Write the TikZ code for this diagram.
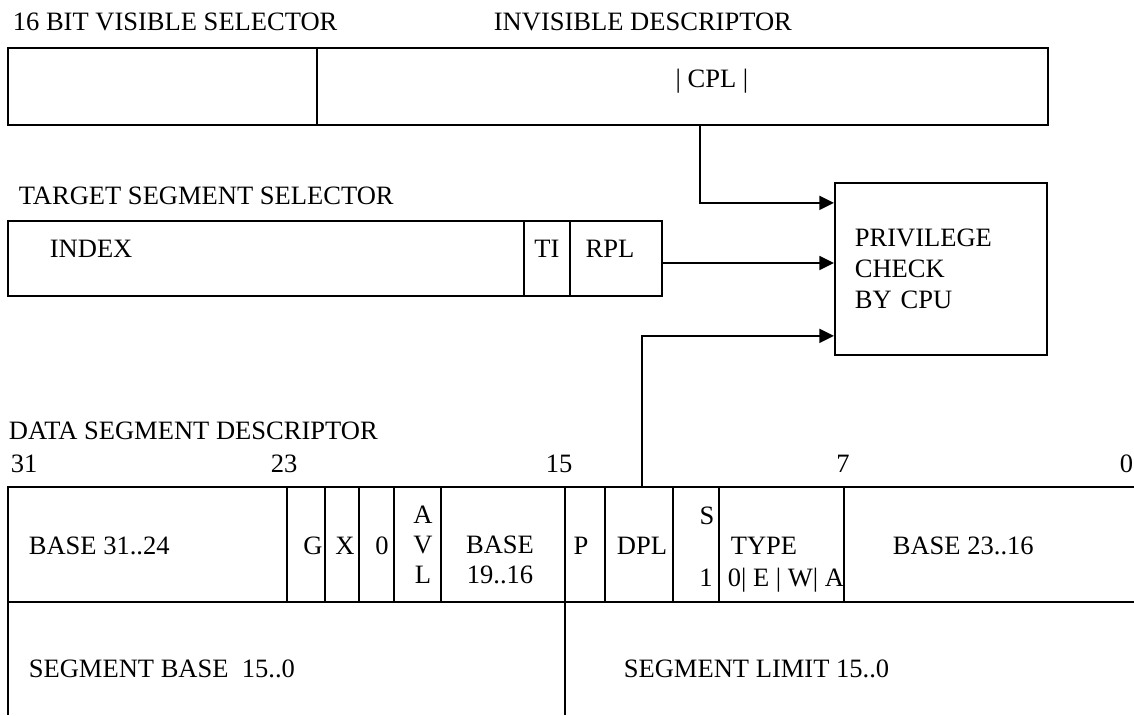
\documentclass[tikz,border=0pt]{standalone}
\usepackage{fontspec}
\setmainfont{Liberation Serif}
\usetikzlibrary{arrows.meta}
\begin{document}
\begin{tikzpicture}[x=0.75pt, y=-0.75pt, line width=1.3pt, >={Triangle[length=11pt,width=10.5pt]},
  font=\fontsize{19.9}{23.6}\selectfont,
  lbl/.style={anchor=base west, inner sep=0pt},
  ctr/.style={anchor=base, inner sep=0pt}]
\useasboundingbox (0,0) rectangle (1134,715);
\node[lbl] (vislbl) at (12,30) {16 BIT VISIBLE SELECTOR};
\node[lbl] (invlbl) at (493,30) {INVISIBLE DESCRIPTOR};
\draw (8,48) rectangle (1048,125);
\draw (317,48) -- (317,125);
\node[ctr] (cpl) at (712,87) {| CPL |};
\node[lbl] (tgtlbl) at (18,204) {TARGET SEGMENT SELECTOR};
\draw (8,221) rectangle (662,296);
\draw (524,221) -- (524,296);
\draw (570,221) -- (570,296);
\node[lbl] (index) at (49,257) {INDEX};
\node[ctr] (ti) at (547,257) {TI};
\node[ctr] (rpl) at (610,257) {RPL};
\node[draw, anchor=north west, align=left, text width=129pt, inner xsep=15pt, minimum height=129pt] (check) at (834,182) {PRIVILEGE\\CHECK\\BY CPU};
\coordinate (cplout) at (700,125);
\coordinate (rplout) at (662,263);
\coordinate (dplout) at (642,487);
\draw[->] (cplout) |- ([yshift=49.5pt]check.west);
\draw[->] (rplout) -- (rplout -| check.west);
\draw[->] (dplout) |- ([yshift=-50.25pt]check.west);
\node[lbl] (datalbl) at (8,439) {DATA SEGMENT DESCRIPTOR};
\node[lbl] (b31) at (10,472) {31};
\node[lbl] (b23) at (270,472) {23};
\node[lbl] (b15) at (545,472) {15};
\node[ctr] (b7) at (843,472) {7};
\node[lbl] (b0) at (1119,472) {0};
\draw (1134,487) -- (8,487) -- (8,715);
\draw (8,602) -- (1134,602);
\draw (565,487) -- (565,715);
\foreach \x in {287,325,359,394,441,605,673,719,844}
  \draw (\x,487) -- (\x,602);
\node[lbl] (basehi) at (28,554) {BASE 31..24};
\node[ctr] (g) at (313,554) {G};
\node[ctr] (xb) at (345,554) {X};
\node[ctr] (zero) at (382,554) {0};
\node[align=center, inner sep=0pt, font=\fontsize{19.9}{22.5}\selectfont] (avl) at (423,545) {A\\V\\L};
\node[align=center, inner sep=0pt, font=\fontsize{19.9}{22.5}\selectfont] (basemid) at (500,560) {BASE\\19..16};
\node[ctr] (p) at (581,554) {P};
\node[ctr] (dpl) at (642,554) {DPL};
\node[ctr] (s) at (707,524) {S};
\node[ctr] (one) at (706,586) {1};
\node[lbl] (type) at (730,554) {TYPE};
\node[lbl] (typebits) at (727,586) {0| E | W| A};
\node[lbl] (baselo) at (892,554) {BASE 23..16};
\node[lbl] (segbase) at (28,677) {SEGMENT BASE\ \ 15..0};
\node[lbl] (seglim) at (623,677) {SEGMENT LIMIT 15..0};
\end{tikzpicture}
\end{document}
